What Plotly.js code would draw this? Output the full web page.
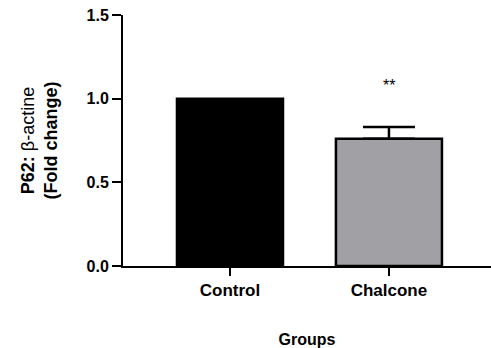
<!DOCTYPE html>
<html>
<head>
<meta charset="utf-8">
<script src="https://cdn.plot.ly/plotly-3.0.1.min.js"></script>
<style>html,body{margin:0;padding:0;background:#fff;}</style>
</head>
<body>
<div id="chart" style="width:491px;height:348px;"></div>
<script>
const categories = ["Control", "Chalcone"];
const meanValues = [1.0, 0.76];
const errorValues = [0, 0.07];
const barColors = ["#000000", "#a1a0a5"];
const significance = ["", "**"];
const yTickValues = [0, 0.5, 1.0, 1.5];

const FONT = "Arial, 'Liberation Sans', sans-serif";

const traces = categories.map((c, i) => ({
  type: "bar",
  x: [c],
  y: [meanValues[i]],
  width: 0.667,
  marker: { color: barColors[i], line: { color: "#000", width: 2.5 } },
  error_y: {
    type: "data",
    array: [errorValues[i]],
    arrayminus: [0],
    symmetric: false,
    visible: errorValues[i] > 0,
    color: "#000",
    thickness: 2.5,
    width: 26
  },
  hoverinfo: "skip",
  showlegend: false
}));

const annotations = categories.map((c, i) => ({
  x: c,
  y: meanValues[i] + errorValues[i],
  xref: "x",
  yref: "y",
  text: significance[i],
  showarrow: false,
  yanchor: "bottom",
  yshift: 31,
  font: { family: FONT, size: 16, color: "#000" }
})).filter(a => a.text);

const layout = {
  width: 491,
  height: 348,
  margin: { l: 123, r: 0, t: 15, b: 82 },
  paper_bgcolor: "#fff",
  plot_bgcolor: "#fff",
  barmode: "overlay",
  font: { family: FONT, color: "#000" },
  xaxis: {
    type: "category",
    range: [-0.673, 1.642],
    showline: true,
    linecolor: "#000",
    linewidth: 2,
    ticks: "outside",
    ticklen: 8,
    tickwidth: 2,
    tickcolor: "#000",
    showgrid: false,
    zeroline: false,
    tickfont: { family: FONT, size: 17, color: "#000", weight: "bold" },
    title: { text: "<b>Groups</b>", font: { family: FONT, size: 16, color: "#000" }, standoff: 36 }
  },
  yaxis: {
    range: [0, 1.5],
    tickvals: yTickValues,
    tickformat: ".1f",
    showline: true,
    linecolor: "#000",
    linewidth: 2,
    ticks: "outside",
    ticklen: 9,
    tickwidth: 2,
    tickcolor: "#000",
    showgrid: false,
    zeroline: false,
    tickfont: { family: FONT, size: 16, color: "#000", weight: "bold" },
    title: { text: "<b>P62:</b> β-actine<br><b>(Fold change)</b>", font: { family: FONT, size: 18, color: "#000" }, standoff: 24 }
  },
  annotations: annotations
};

Plotly.newPlot("chart", traces, layout, { staticPlot: true, displayModeBar: false });
</script>
</body>
</html>
